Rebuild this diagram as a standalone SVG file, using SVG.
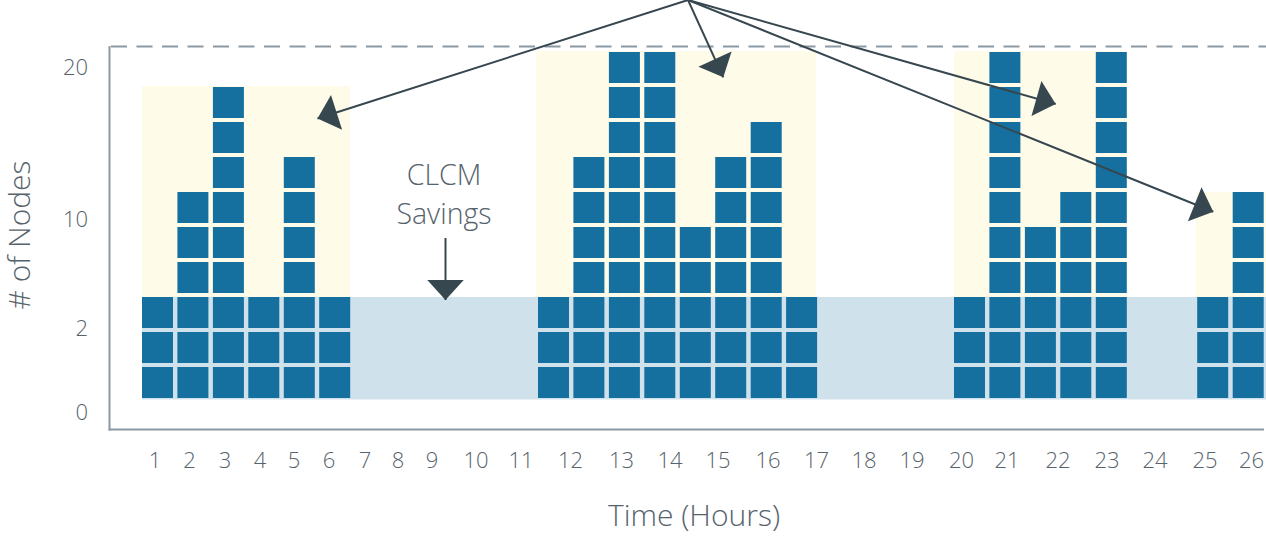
<svg xmlns="http://www.w3.org/2000/svg" width="1266" height="536" viewBox="0 0 1266 536">
<style>
.t{font-family:"Open Sans","Liberation Sans",sans-serif;font-weight:300;fill:#56636c}
.n{font-size:22px}
.ax{stroke:#8a99a3;stroke-width:2;fill:none}
.b{fill:#1570a0}
.y{fill:#fffbe9}
.conn{stroke:#36474f;stroke-width:2;fill:none}
</style>
<defs>
<marker id="ah" markerUnits="userSpaceOnUse" markerWidth="40" markerHeight="40" viewBox="-1 -17 20 34" refX="17" refY="0" orient="auto">
<path d="M0,-15.5 L17,0 L0,15.5 Z" fill="#36474f"/>
</marker>
<g id="blk"><rect width="31" height="31" class="b"/></g>
</defs>
<rect width="1266" height="536" fill="#fff"/>
<g id="highlights">
<rect class="y" x="142" y="86" width="208" height="211"/>
<rect class="y" x="536" y="51" width="280" height="246"/>
<rect class="y" x="954" y="51" width="173" height="246"/>
<rect class="y" x="1196" y="192" width="70" height="105"/>
</g>
<rect id="baseline-band" x="142" y="297" width="1124" height="102.5" fill="#cfe1ea"/>
<g id="axes">
<line class="ax" x1="109.5" y1="46" x2="109.5" y2="430.5"/>
<line class="ax" x1="108.5" y1="429.5" x2="1264" y2="429.5"/>
<line class="ax" x1="111" y1="46.5" x2="1266" y2="46.5" stroke-dasharray="16 9.5"/>
</g>
<g id="group-1">
<use href="#blk" x="142" y="367"/><use href="#blk" x="142" y="332"/><use href="#blk" x="142" y="297"/>
<use href="#blk" x="177.4" y="367"/><use href="#blk" x="177.4" y="332"/><use href="#blk" x="177.4" y="297"/><use href="#blk" x="177.4" y="262"/><use href="#blk" x="177.4" y="227"/><use href="#blk" x="177.4" y="192"/>
<use href="#blk" x="212.9" y="367"/><use href="#blk" x="212.9" y="332"/><use href="#blk" x="212.9" y="297"/><use href="#blk" x="212.9" y="262"/><use href="#blk" x="212.9" y="227"/><use href="#blk" x="212.9" y="192"/><use href="#blk" x="212.9" y="157"/><use href="#blk" x="212.9" y="122"/><use href="#blk" x="212.9" y="87"/>
<use href="#blk" x="248.3" y="367"/><use href="#blk" x="248.3" y="332"/><use href="#blk" x="248.3" y="297"/>
<use href="#blk" x="283.8" y="367"/><use href="#blk" x="283.8" y="332"/><use href="#blk" x="283.8" y="297"/><use href="#blk" x="283.8" y="262"/><use href="#blk" x="283.8" y="227"/><use href="#blk" x="283.8" y="192"/><use href="#blk" x="283.8" y="157"/>
<use href="#blk" x="319.2" y="367"/><use href="#blk" x="319.2" y="332"/><use href="#blk" x="319.2" y="297"/>
</g>
<g id="group-2">
<use href="#blk" x="538" y="367"/><use href="#blk" x="538" y="332"/><use href="#blk" x="538" y="297"/>
<use href="#blk" x="573.4" y="367"/><use href="#blk" x="573.4" y="332"/><use href="#blk" x="573.4" y="297"/><use href="#blk" x="573.4" y="262"/><use href="#blk" x="573.4" y="227"/><use href="#blk" x="573.4" y="192"/><use href="#blk" x="573.4" y="157"/>
<use href="#blk" x="608.9" y="367"/><use href="#blk" x="608.9" y="332"/><use href="#blk" x="608.9" y="297"/><use href="#blk" x="608.9" y="262"/><use href="#blk" x="608.9" y="227"/><use href="#blk" x="608.9" y="192"/><use href="#blk" x="608.9" y="157"/><use href="#blk" x="608.9" y="122"/><use href="#blk" x="608.9" y="87"/><use href="#blk" x="608.9" y="52"/>
<use href="#blk" x="644.3" y="367"/><use href="#blk" x="644.3" y="332"/><use href="#blk" x="644.3" y="297"/><use href="#blk" x="644.3" y="262"/><use href="#blk" x="644.3" y="227"/><use href="#blk" x="644.3" y="192"/><use href="#blk" x="644.3" y="157"/><use href="#blk" x="644.3" y="122"/><use href="#blk" x="644.3" y="87"/><use href="#blk" x="644.3" y="52"/>
<use href="#blk" x="679.8" y="367"/><use href="#blk" x="679.8" y="332"/><use href="#blk" x="679.8" y="297"/><use href="#blk" x="679.8" y="262"/><use href="#blk" x="679.8" y="227"/>
<use href="#blk" x="715.2" y="367"/><use href="#blk" x="715.2" y="332"/><use href="#blk" x="715.2" y="297"/><use href="#blk" x="715.2" y="262"/><use href="#blk" x="715.2" y="227"/><use href="#blk" x="715.2" y="192"/><use href="#blk" x="715.2" y="157"/>
<use href="#blk" x="750.7" y="367"/><use href="#blk" x="750.7" y="332"/><use href="#blk" x="750.7" y="297"/><use href="#blk" x="750.7" y="262"/><use href="#blk" x="750.7" y="227"/><use href="#blk" x="750.7" y="192"/><use href="#blk" x="750.7" y="157"/><use href="#blk" x="750.7" y="122"/>
<use href="#blk" x="786.1" y="367"/><use href="#blk" x="786.1" y="332"/><use href="#blk" x="786.1" y="297"/>
</g>
<g id="group-3">
<use href="#blk" x="954" y="367"/><use href="#blk" x="954" y="332"/><use href="#blk" x="954" y="297"/>
<use href="#blk" x="989.4" y="367"/><use href="#blk" x="989.4" y="332"/><use href="#blk" x="989.4" y="297"/><use href="#blk" x="989.4" y="262"/><use href="#blk" x="989.4" y="227"/><use href="#blk" x="989.4" y="192"/><use href="#blk" x="989.4" y="157"/><use href="#blk" x="989.4" y="122"/><use href="#blk" x="989.4" y="87"/><use href="#blk" x="989.4" y="52"/>
<use href="#blk" x="1024.9" y="367"/><use href="#blk" x="1024.9" y="332"/><use href="#blk" x="1024.9" y="297"/><use href="#blk" x="1024.9" y="262"/><use href="#blk" x="1024.9" y="227"/>
<use href="#blk" x="1060.3" y="367"/><use href="#blk" x="1060.3" y="332"/><use href="#blk" x="1060.3" y="297"/><use href="#blk" x="1060.3" y="262"/><use href="#blk" x="1060.3" y="227"/><use href="#blk" x="1060.3" y="192"/>
<use href="#blk" x="1095.8" y="367"/><use href="#blk" x="1095.8" y="332"/><use href="#blk" x="1095.8" y="297"/><use href="#blk" x="1095.8" y="262"/><use href="#blk" x="1095.8" y="227"/><use href="#blk" x="1095.8" y="192"/><use href="#blk" x="1095.8" y="157"/><use href="#blk" x="1095.8" y="122"/><use href="#blk" x="1095.8" y="87"/><use href="#blk" x="1095.8" y="52"/>
</g>
<g id="group-4">
<use href="#blk" x="1197.2" y="367"/><use href="#blk" x="1197.2" y="332"/><use href="#blk" x="1197.2" y="297"/>
<use href="#blk" x="1232.7" y="367"/><use href="#blk" x="1232.7" y="332"/><use href="#blk" x="1232.7" y="297"/><use href="#blk" x="1232.7" y="262"/><use href="#blk" x="1232.7" y="227"/><use href="#blk" x="1232.7" y="192"/>
</g>
<g id="y-labels" class="t n" text-anchor="end">
<text x="88" y="75">20</text>
<text x="88" y="227">10</text>
<text x="88" y="336">2</text>
<text x="88" y="420">0</text>
</g>
<g id="x-labels" class="t n" text-anchor="middle">
<text x="155" y="468">1</text><text x="189.5" y="468">2</text><text x="225" y="468">3</text><text x="260" y="468">4</text><text x="294" y="468">5</text><text x="329" y="468">6</text><text x="365" y="468">7</text><text x="398" y="468">8</text><text x="432" y="468">9</text><text x="476" y="468">10</text><text x="521" y="468">11</text><text x="570.5" y="468">12</text><text x="621.5" y="468">13</text><text x="670" y="468">14</text><text x="718" y="468">15</text><text x="768" y="468">16</text><text x="816.5" y="468">17</text><text x="864" y="468">18</text><text x="912" y="468">19</text><text x="961.5" y="468">20</text><text x="1007" y="468">21</text><text x="1058" y="468">22</text><text x="1107" y="468">23</text><text x="1155" y="468">24</text><text x="1205" y="468">25</text><text x="1251.5" y="468">26</text>
</g>
<text id="x-title" class="t" font-size="30" x="694" y="526" text-anchor="middle">Time (Hours)</text>
<text id="y-title" class="t" font-size="30" transform="translate(30,235) rotate(-90)" text-anchor="middle"># of Nodes</text>
<g id="clcm-savings">
<text class="t" font-size="28.5" x="444" y="185" text-anchor="middle">CLCM</text>
<text class="t" font-size="28.5" x="444" y="224" text-anchor="middle">Savings</text>
</g>
<g id="connectors" class="conn">
<line x1="445.5" y1="238" x2="445.5" y2="300" marker-end="url(#ah)"/>
<line x1="688" y1="0" x2="317.5" y2="118.5" marker-end="url(#ah)"/>
<line x1="688" y1="0" x2="723.3" y2="77.3" marker-end="url(#ah)"/>
<line x1="688" y1="0" x2="1055.7" y2="104" marker-end="url(#ah)"/>
<line x1="688" y1="0" x2="1213.3" y2="211.7" marker-end="url(#ah)"/>
</g>
</svg>
